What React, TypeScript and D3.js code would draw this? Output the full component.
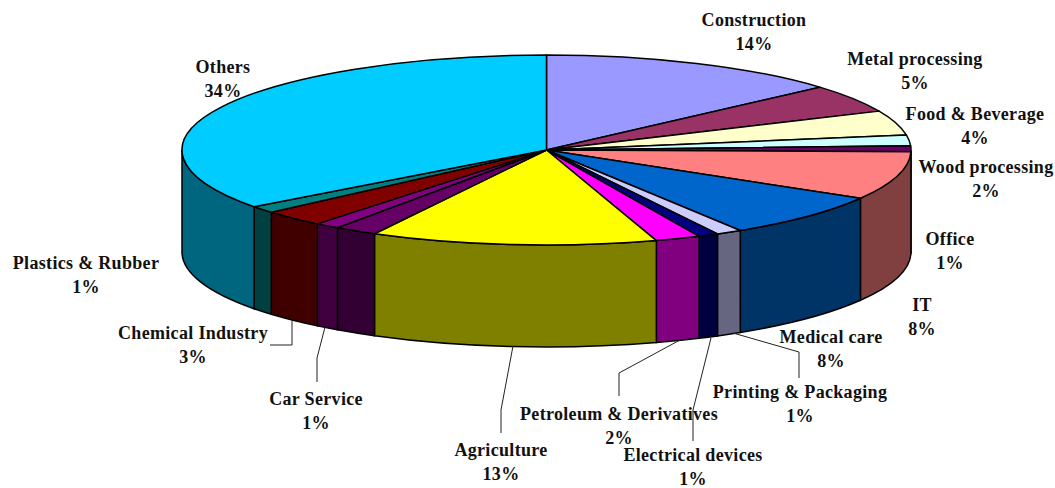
import React from "react";
import * as d3 from "d3";

const categories = [
  "Construction", "Metal processing", "Food & Beverage", "Wood processing", "Office", "IT",
  "Medical care", "Printing & Packaging", "Electrical devices", "Petroleum & Derivatives",
  "Agriculture", "", "Car Service", "Chemical Industry", "Plastics & Rubber", "Others",
];
// slice sizes, the printed labels are rounded
const values = [13.5, 4.8, 4.2, 1.8, 1.0, 8.2, 7.6, 1.15, 0.9, 2.0, 12.7, 1.9, 1.1, 2.8, 1.2, 35.2];
const percentLabels = ["14%", "5%", "4%", "2%", "1%", "8%", "8%", "1%", "1%", "2%", "13%", "", "1%", "3%", "1%", "34%"];
const colors = [
  "#9999FF", "#993366", "#FFFFCC", "#CCFFFF", "#660066", "#FF8080", "#0066CC", "#CCCCFF",
  "#000080", "#FF00FF", "#FFFF00", "#660066", "#800080", "#800000", "#008080", "#00CCFF",
];

// label centre x and first baseline, same order as categories
const labelX = [754, 915, 975, 986, 950, 922, 831, 800, 693, 619, 501, 0, 316, 193, 86, 223];
const labelY = [26, 65, 120, 173, 245, 311, 343, 398, 461, 420, 456, 0, 405, 339, 269, 73];

const leaders: [number, number][][] = [
  [[292, 320], [292, 345], [270, 345]],
  [[325, 327], [317, 358], [317, 382]],
  [[513, 346], [501, 410], [501, 433]],
  [[680, 340], [619, 373], [619, 396]],
  [[711, 338], [693, 410], [693, 441]],
  [[733, 333], [799, 352], [799, 378]],
];

const cx = 546.5;
const cy = 150;
const rx = 364.5;
const ry = 95;
const depth = 102;

const pie = d3.pie<number>().sort(null);
const arcs = pie(values);
const topArc = d3.arc<d3.PieArcDatum<number>>().innerRadius(0).outerRadius(rx);

const px = (t: number) => cx + rx * Math.sin(t);
const py = (t: number) => cy - ry * Math.cos(t);

// side of the cake, only the front half can be seen
const wallPath = (a0: number, a1: number) => {
  const s = Math.max(a0, Math.PI / 2);
  const e = Math.min(a1, (3 * Math.PI) / 2);
  if (e <= s) return null;
  return (
    `M${px(s)},${py(s)}A${rx},${ry} 0 0 1 ${px(e)},${py(e)}` +
    `L${px(e)},${py(e) + depth}A${rx},${ry} 0 0 0 ${px(s)},${py(s) + depth}Z`
  );
};

const halfTone = (c: string) => {
  const r = d3.rgb(c);
  return d3.rgb(r.r / 2, r.g / 2, r.b / 2).formatHex();
};

const leaderLine = d3.line();

export default function App() {
  return (
    <svg
      width={1055}
      height={488}
      style={{ position: "absolute", left: 0, top: 0, background: "#fff" }}
      fontFamily="'Liberation Serif', serif"
      fontWeight="bold"
      fontSize={18}
      letterSpacing={0.32}
    >
      {arcs.map((d, i) => {
        const p = wallPath(d.startAngle, d.endAngle);
        return p ? <path key={i} d={p} fill={halfTone(colors[i])} stroke="#000" strokeWidth={1.5} /> : null;
      })}
      <g transform={`translate(${cx},${cy}) scale(1,${ry / rx})`}>
        {arcs.map((d, i) => (
          <path
            key={i}
            d={topArc(d) as string}
            fill={colors[i]}
            stroke="#000"
            strokeWidth={1.5}
            strokeLinejoin="round"
            vectorEffect="non-scaling-stroke"
          />
        ))}
      </g>
      {leaders.map((l, i) => (
        <path key={i} d={leaderLine(l) as string} fill="none" stroke="#222" strokeWidth={1} />
      ))}
      {categories.map((c, i) =>
        c ? (
          <text key={c} textAnchor="middle" fill="#111">
            <tspan x={labelX[i]} y={labelY[i]}>{c}</tspan>
            <tspan x={labelX[i]} y={labelY[i] + 24}>{percentLabels[i]}</tspan>
          </text>
        ) : null
      )}
    </svg>
  );
}
